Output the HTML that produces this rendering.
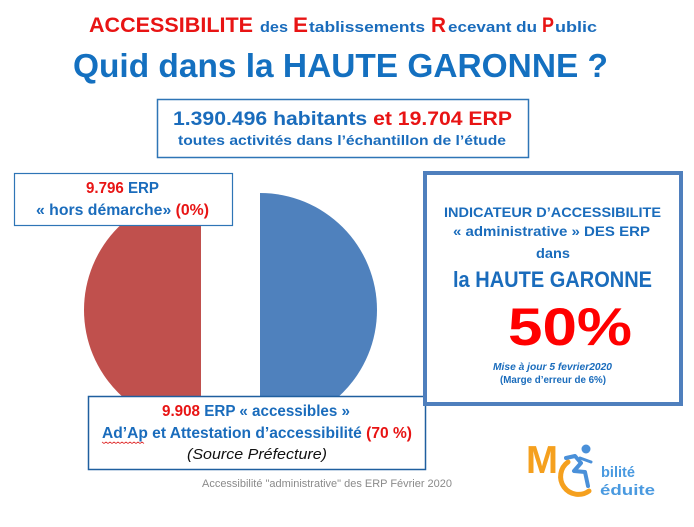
<!DOCTYPE html>
<html>
<head>
<meta charset="utf-8">
<style>
html,body{margin:0;padding:0;background:#fff;}
svg{display:block;}
text{font-family:"Liberation Sans",Arial,sans-serif;}
</style>
</head>
<body>
<svg width="694" height="527" viewBox="0 0 694 527" xmlns="http://www.w3.org/2000/svg">
<rect x="0" y="0" width="694" height="527" fill="#ffffff"/>

<!-- Title line 1 -->
<g font-weight="bold">
<text x="89" y="32" font-size="21" fill="#e81414" textLength="164" lengthAdjust="spacingAndGlyphs">ACCESSIBILITE</text>
<text x="260" y="32" font-size="15" fill="#1a6cbc" textLength="28" lengthAdjust="spacingAndGlyphs">des</text>
<text x="293" y="32" font-size="21" fill="#e81414" textLength="15" lengthAdjust="spacingAndGlyphs">E</text>
<text x="309" y="32" font-size="15" fill="#1a6cbc" textLength="116" lengthAdjust="spacingAndGlyphs">tablissements</text>
<text x="431" y="32" font-size="21" fill="#e81414" textLength="15" lengthAdjust="spacingAndGlyphs">R</text>
<text x="448" y="32" font-size="15" fill="#1a6cbc" textLength="89" lengthAdjust="spacingAndGlyphs">ecevant du</text>
<text x="542" y="32" font-size="21" fill="#e81414" textLength="12" lengthAdjust="spacingAndGlyphs">P</text>
<text x="555" y="32" font-size="15" fill="#1a6cbc" textLength="42" lengthAdjust="spacingAndGlyphs">ublic</text>
</g>

<!-- Title line 2 -->
<text x="73" y="77" font-size="33" font-weight="bold" fill="#1470c0" textLength="535" lengthAdjust="spacingAndGlyphs">Quid dans la HAUTE GARONNE ?</text>

<!-- Top box -->
<rect x="157.5" y="99.5" width="371" height="58" fill="#fff" stroke="#2e75b6" stroke-width="1.5"/>
<text x="173" y="125" font-size="19.5" font-weight="bold" textLength="339" lengthAdjust="spacingAndGlyphs"><tspan fill="#1a6cbc">1.390.496 habitants </tspan><tspan fill="#e81414">et 19.704 ERP</tspan></text>
<text x="178" y="145" font-size="14" font-weight="bold" fill="#1a6cbc" textLength="328" lengthAdjust="spacingAndGlyphs">toutes activités dans l’échantillon de l’étude</text>

<!-- Pie halves -->
<path d="M201,193 A117,117 0 0,0 201,427 Z" fill="#c0504d"/>
<path d="M260,193 A117,117 0 0,1 260,427 Z" fill="#4f81bd"/>

<!-- Top-left box -->
<rect x="14.5" y="173.5" width="218" height="52" fill="#fff" stroke="#2e75b6" stroke-width="1.2"/>
<text x="86" y="193" font-size="15.5" font-weight="bold" textLength="73" lengthAdjust="spacingAndGlyphs"><tspan fill="#e81414">9.796</tspan><tspan fill="#1a6cbc"> ERP</tspan></text>
<text x="36" y="215" font-size="15.5" font-weight="bold" textLength="173" lengthAdjust="spacingAndGlyphs"><tspan fill="#1a6cbc">« hors démarche» </tspan><tspan fill="#e81414">(0%)</tspan></text>

<!-- Bottom-left box -->
<rect x="88.5" y="396.5" width="337" height="73" fill="#fff" stroke="#1f5f9f" stroke-width="1.5"/>
<text x="162" y="416" font-size="15.5" font-weight="bold" textLength="188" lengthAdjust="spacingAndGlyphs"><tspan fill="#e81414">9.908</tspan><tspan fill="#1a6cbc"> ERP « accessibles »</tspan></text>
<text x="102" y="438" font-size="15.5" font-weight="bold" textLength="310" lengthAdjust="spacingAndGlyphs"><tspan fill="#1a6cbc">Ad’Ap et Attestation d’accessibilité </tspan><tspan fill="#e81414">(70 %)</tspan></text>
<path d="M102,442 l2,1.5 l2,-1.5 l2,1.5 l2,-1.5 l2,1.5 l2,-1.5 l2,1.5 l2,-1.5 l2,1.5 l2,-1.5 l2,1.5 l2,-1.5 l2,1.5 l2,-1.5 l2,1.5 l2,-1.5 l2,1.5 l2,-1.5 l2,1.5 l2,-1.5 l2,1.5" fill="none" stroke="#e03030" stroke-width="0.8"/>
<text x="187" y="459" font-size="15" font-style="italic" fill="#111" textLength="140" lengthAdjust="spacingAndGlyphs">(Source Préfecture)</text>

<!-- Footer -->
<text x="202" y="487" font-size="11" fill="#8a8a8a" textLength="250" lengthAdjust="spacingAndGlyphs">Accessibilité "administrative" des ERP Février 2020</text>

<!-- Right box -->
<rect x="427" y="175" width="256" height="231" fill="#e6e6e6" opacity="0.6"/>
<rect x="425" y="173" width="256" height="231" fill="#fff" stroke="#4f7fbd" stroke-width="4"/>
<g font-weight="bold" fill="#1a6cbc">
<text x="444" y="217" font-size="14" textLength="217" lengthAdjust="spacingAndGlyphs">INDICATEUR D’ACCESSIBILITE</text>
<text x="453" y="236" font-size="14" textLength="197" lengthAdjust="spacingAndGlyphs">« administrative » DES ERP</text>
<text x="536" y="258" font-size="14" textLength="34" lengthAdjust="spacingAndGlyphs">dans</text>
<text x="453" y="287" font-size="22" textLength="199" lengthAdjust="spacingAndGlyphs">la HAUTE GARONNE</text>
</g>
<text x="508" y="345" font-size="53" font-weight="bold" fill="#ff0000" textLength="124" lengthAdjust="spacingAndGlyphs">50%</text>
<text x="493" y="370" font-size="10" font-style="italic" font-weight="bold" fill="#1a6cbc" textLength="119" lengthAdjust="spacingAndGlyphs">Mise à  jour 5 fevrier2020</text>
<text x="500" y="383" font-size="10" font-weight="bold" fill="#1a6cbc" textLength="106" lengthAdjust="spacingAndGlyphs">(Marge d’erreur de 6%)</text>

<!-- Logo -->
<text x="526" y="473" font-size="39" font-weight="bold" fill="#f5a01e" textLength="32" lengthAdjust="spacingAndGlyphs">M</text>
<path d="M568,462 A17,17 0 1,0 589,491" fill="none" stroke="#f5a01e" stroke-width="5" stroke-linecap="round"/>
<circle cx="586" cy="449" r="4.5" fill="#4a90d9"/>
<path d="M566,458 L575,456 L581,463 L574,471 L585,472 L588,486" fill="none" stroke="#4a90d9" stroke-width="4" stroke-linecap="round" stroke-linejoin="round"/>
<path d="M580,458 L591,462" fill="none" stroke="#4a90d9" stroke-width="3" stroke-linecap="round"/>
<text x="601" y="477" font-size="15" font-weight="bold" fill="#4a9ae0" textLength="34" lengthAdjust="spacingAndGlyphs">bilité</text>
<text x="600" y="495" font-size="15" font-weight="bold" fill="#4a9ae0" textLength="55" lengthAdjust="spacingAndGlyphs">éduite</text>
</svg>
</body>
</html>
